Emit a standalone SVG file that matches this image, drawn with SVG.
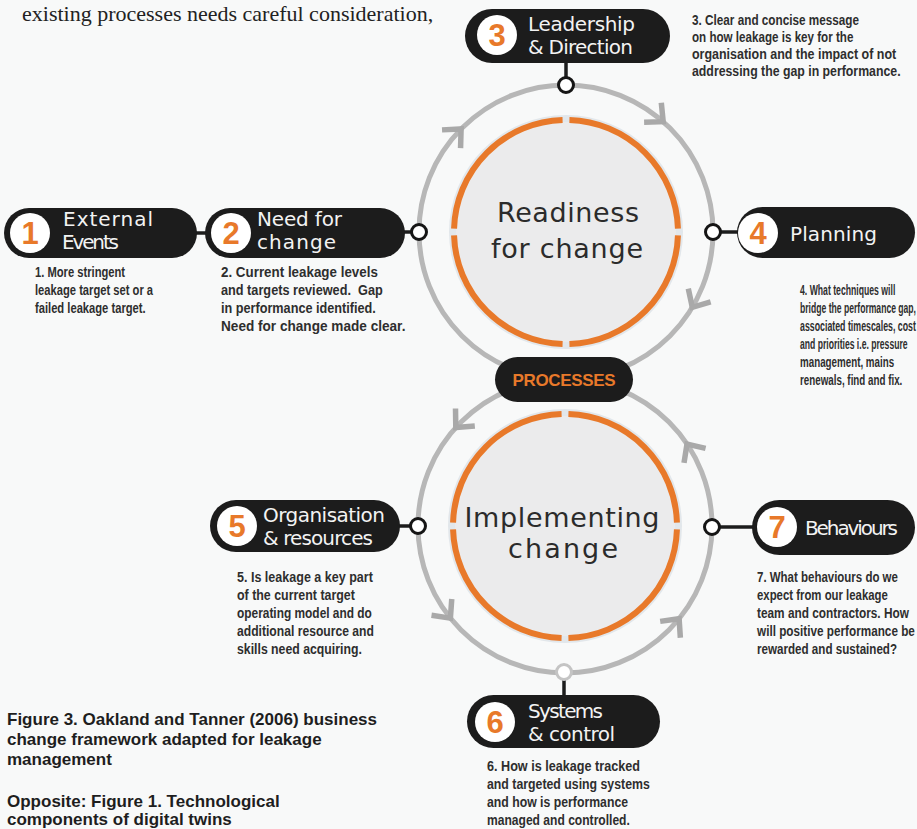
<svg xmlns="http://www.w3.org/2000/svg" width="917" height="829" viewBox="0 0 917 829">
  <style>
    .pill{fill:#1c1c1c}
    .badge{fill:#ffffff}
    .num{font-family:"Liberation Sans",Arial,sans-serif;font-weight:bold;font-size:31px;fill:#e8792a;text-anchor:middle}
    .lbl{font-family:"DejaVu Sans",sans-serif;font-size:20px;fill:#f3f3f3}
    .desc text{font-family:"Liberation Sans",Arial,sans-serif;font-weight:bold;font-size:14px;fill:#2e2e2e}
    .ring{fill:none;stroke:#b7b7b7;stroke-width:5}
    .chev{fill:none;stroke:#a9a9a9;stroke-width:5.5;stroke-linejoin:miter}
    .orange{fill:none;stroke:#e8792a;stroke-width:6}
    .halo{fill:#e2e7eb}
    .core{fill:#ebebec}
    .node{fill:#ffffff;stroke:#151515;stroke-width:3}
    .link{stroke:#1c1c1c;stroke-width:3.5}
    .hub{font-family:"DejaVu Sans",sans-serif;font-size:27px;fill:#2b2b2b;text-anchor:middle}
    .cap{font-family:"Liberation Sans",Arial,sans-serif;font-weight:bold;font-size:17px;fill:#1e1e1e}
  </style>
  <defs>
    <path id="chev" d="M-14,-13 L0,0 L-14,13"/>
  </defs>

  <rect width="917" height="829" fill="#f8f9f9"/>

  <!-- running text above the figure -->
  <text x="22" y="21" font-family="'Liberation Serif',serif" font-size="22" fill="#222">existing processes needs careful consideration,</text>

  <!-- hub: readiness for change -->
  <g id="hub-readiness">
    <circle class="halo" cx="566" cy="232" r="117"/>
    <circle class="core" cx="566" cy="232" r="110"/>
    <circle class="orange" cx="566" cy="232" r="112" pathLength="360" stroke-dasharray="86.4 3.6" stroke-dashoffset="88.2"/>
    <text class="hub" x="568" y="222" textLength="142">Readiness</text>
    <text class="hub" x="567" y="258" textLength="152">for change</text>
  </g>

  <!-- hub: implementing change -->
  <g id="hub-implementing">
    <circle class="halo" cx="565" cy="526" r="117"/>
    <circle class="core" cx="565" cy="526" r="110"/>
    <circle class="orange" cx="565" cy="526" r="112" pathLength="360" stroke-dasharray="86.4 3.6" stroke-dashoffset="88.2"/>
    <text class="hub" x="562" y="527" textLength="195">Implementing</text>
    <text class="hub" x="563" y="558" textLength="110">change</text>
  </g>

  <!-- connectors: cycle rings, direction chevrons and links -->
  <g id="connectors">
    <circle class="ring" cx="566" cy="232" r="147"/>
    <circle class="ring" cx="565" cy="526" r="147"/>

    <!-- upper cycle runs clockwise -->
    <use href="#chev" class="chev" transform="translate(461.1,129) rotate(-45.5)"/>
    <use href="#chev" class="chev" transform="translate(663.2,121.7) rotate(41.4)"/>
    <use href="#chev" class="chev" transform="translate(692.3,307.3) rotate(120.8)"/>

    <!-- lower cycle runs anticlockwise -->
    <use href="#chev" class="chev" transform="translate(455.8,427.6) rotate(132)"/>
    <use href="#chev" class="chev" transform="translate(450.4,618.1) rotate(51.2)"/>
    <use href="#chev" class="chev" transform="translate(679.1,618.7) rotate(-50.9)"/>
    <use href="#chev" class="chev" transform="translate(687,444) rotate(-123.9)"/>

    <line class="link" x1="195" y1="233" x2="208" y2="233"/>
    <line class="link" x1="403" y1="232" x2="412" y2="232"/>
    <line class="link" x1="566" y1="60" x2="566" y2="78"/>
    <line class="link" x1="720" y1="232" x2="739" y2="232"/>
    <line class="link" x1="398" y1="526" x2="411" y2="526"/>
    <line class="link" x1="719" y1="527" x2="754" y2="527"/>
    <line class="link" x1="564" y1="680" x2="564" y2="697"/>

    <circle class="node" cx="419" cy="232" r="7.5"/>
    <circle class="node" cx="566" cy="85" r="7.5"/>
    <circle class="node" cx="713" cy="232" r="7.5"/>
    <circle class="node" cx="418" cy="526" r="7.5"/>
    <circle class="node" cx="712" cy="527" r="7.5"/>
    <circle class="node" cx="564" cy="672" r="7.5" style="stroke:#c4c4c4"/>
  </g>

  <!-- centre label joining both cycles -->
  <g id="processes">
    <rect class="pill" x="495" y="357" width="138" height="45" rx="22.5"/>
    <text x="564" y="386" font-family="'Liberation Sans',Arial,sans-serif" font-weight="bold" font-size="17" fill="#e8792a" text-anchor="middle" textLength="103">PROCESSES</text>
  </g>

  <g id="step1">
    <rect class="pill" x="4" y="208" width="193" height="50" rx="25"/>
    <circle class="badge" cx="30" cy="233" r="20"/>
    <text class="num" x="30" y="244">1</text>
    <text class="lbl" x="63" y="226" textLength="90">External</text>
    <text class="lbl" x="62" y="249" textLength="57">Events</text>
    <g class="desc">
      <text transform="matrix(0.8 0 0 1 35 277)">1. More stringent</text>
      <text transform="matrix(0.8 0 0 1 35 295)">leakage target set or a</text>
      <text transform="matrix(0.8 0 0 1 35 313)">failed leakage target.</text>
    </g>
  </g>

  <g id="step2">
    <rect class="pill" x="205" y="208" width="200" height="50" rx="25"/>
    <circle class="badge" cx="231" cy="233" r="20"/>
    <text class="num" x="231" y="244">2</text>
    <text class="lbl" x="257" y="226" textLength="85">Need for</text>
    <text class="lbl" x="257" y="249" textLength="79">change</text>
    <g class="desc">
      <text transform="matrix(0.956 0 0 1 221 277)">2. Current leakage levels</text>
      <text transform="matrix(0.909 0 0 1 221 295)">and targets reviewed.&#160; Gap</text>
      <text transform="matrix(0.905 0 0 1 221 313)">in performance identified.</text>
      <text transform="matrix(0.972 0 0 1 221 331)">Need for change made clear.</text>
    </g>
  </g>

  <g id="step3">
    <rect class="pill" x="465" y="9" width="205" height="54" rx="27"/>
    <circle class="badge" cx="497" cy="35" r="20"/>
    <text class="num" x="497" y="46">3</text>
    <text class="lbl" x="528" y="31" textLength="107">Leadership</text>
    <text class="lbl" x="528" y="54" textLength="105">&amp; Direction</text>
    <g class="desc">
      <text transform="matrix(0.84 0 0 1 692 25)">3. Clear and concise message</text>
      <text transform="matrix(0.83 0 0 1 692 42)">on how leakage is key for the</text>
      <text transform="matrix(0.89 0 0 1 692 59)">organisation and the impact of not</text>
      <text transform="matrix(0.88 0 0 1 692 76)">addressing the gap in performance.</text>
    </g>
  </g>

  <g id="step4">
    <rect class="pill" x="737" y="207" width="178" height="51" rx="25.5"/>
    <circle class="badge" cx="758" cy="233" r="20"/>
    <text class="num" x="758" y="244">4</text>
    <text class="lbl" x="790" y="241" textLength="87" font-size="21">Planning</text>
    <g class="desc">
      <text transform="matrix(0.62 0 0 1 800 295)">4. What techniques will</text>
      <text transform="matrix(0.614 0 0 1 800 313)">bridge the performance gap,</text>
      <text transform="matrix(0.629 0 0 1 800 331)">associated timescales, cost</text>
      <text transform="matrix(0.615 0 0 1 800 349)">and priorities i.e. pressure</text>
      <text transform="matrix(0.7 0 0 1 800 367)">management, mains</text>
      <text transform="matrix(0.7 0 0 1 800 385)">renewals, find and fix.</text>
    </g>
  </g>

  <g id="step5">
    <rect class="pill" x="210" y="500" width="190" height="52" rx="26"/>
    <circle class="badge" cx="237" cy="526" r="20"/>
    <text class="num" x="237" y="537">5</text>
    <text class="lbl" x="263" y="522" textLength="122">Organisation</text>
    <text class="lbl" x="263" y="545" textLength="110">&amp; resources</text>
    <g class="desc">
      <text transform="matrix(0.896 0 0 1 237 582)">5. Is leakage a key part</text>
      <text transform="matrix(0.887 0 0 1 237 600)">of the current target</text>
      <text transform="matrix(0.851 0 0 1 237 618)">operating model and do</text>
      <text transform="matrix(0.868 0 0 1 237 636)">additional resource and</text>
      <text transform="matrix(0.878 0 0 1 237 654)">skills need acquiring.</text>
    </g>
  </g>

  <g id="step6">
    <rect class="pill" x="467" y="695" width="193" height="53" rx="26.5"/>
    <circle class="badge" cx="495" cy="722" r="20"/>
    <text class="num" x="495" y="733">6</text>
    <text class="lbl" x="528" y="718" textLength="75">Systems</text>
    <text class="lbl" x="528" y="741" textLength="87">&amp; control</text>
    <g class="desc">
      <text transform="matrix(0.902 0 0 1 487 771)">6. How is leakage tracked</text>
      <text transform="matrix(0.88 0 0 1 487 789)">and targeted using systems</text>
      <text transform="matrix(0.876 0 0 1 487 807)">and how is performance</text>
      <text transform="matrix(0.863 0 0 1 487 825)">managed and controlled.</text>
    </g>
  </g>

  <g id="step7">
    <rect class="pill" x="752" y="500" width="163" height="55" rx="27.5"/>
    <circle class="badge" cx="777" cy="527" r="20"/>
    <text class="num" x="777" y="538">7</text>
    <text class="lbl" x="805" y="535" textLength="93" font-size="21">Behaviours</text>
    <g class="desc">
      <text transform="matrix(0.82 0 0 1 757 582)">7. What behaviours do we</text>
      <text transform="matrix(0.813 0 0 1 757 600)">expect from our leakage</text>
      <text transform="matrix(0.846 0 0 1 757 618)">team and contractors. How</text>
      <text transform="matrix(0.84 0 0 1 757 636)">will positive performance be</text>
      <text transform="matrix(0.83 0 0 1 757 654)">rewarded and sustained?</text>
    </g>
  </g>

  <!-- figure captions -->
  <text class="cap"><tspan x="7" y="725">Figure 3. Oakland and Tanner (2006) business</tspan><tspan x="7" y="745">change framework adapted for leakage</tspan><tspan x="7" y="765">management</tspan></text>
  <text class="cap"><tspan x="7" y="807">Opposite: Figure 1. Technological</tspan><tspan x="7" y="825">components of digital twins</tspan></text>
</svg>
